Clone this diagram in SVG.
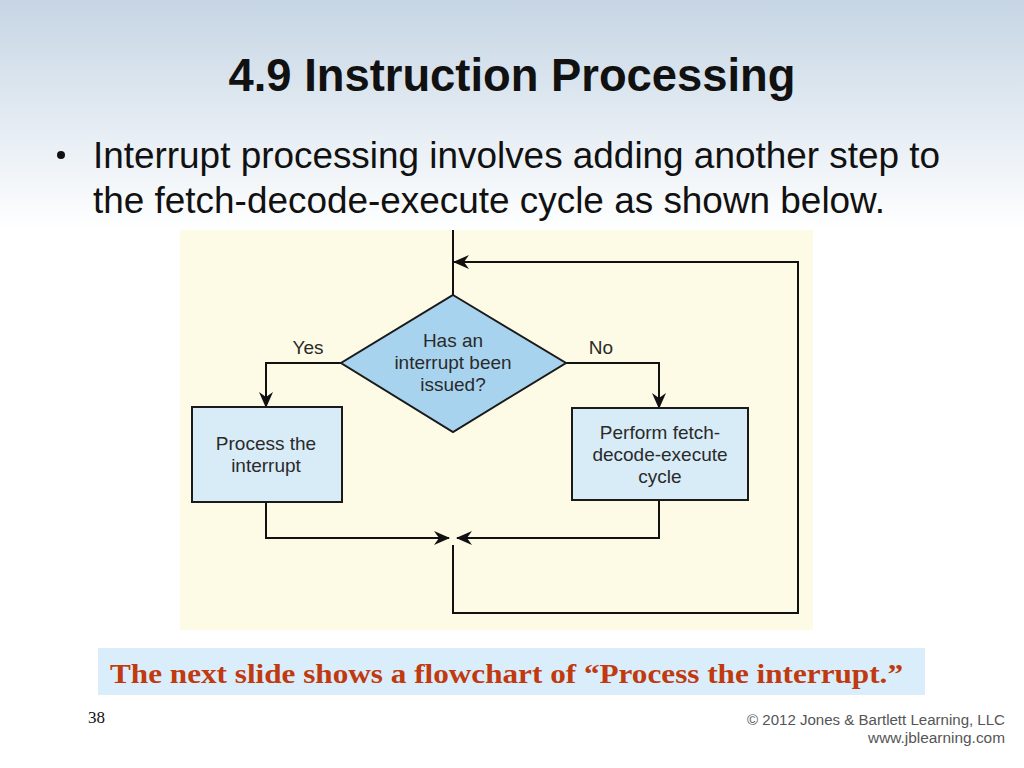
<svg xmlns="http://www.w3.org/2000/svg" width="1024" height="768" viewBox="0 0 1024 768">
  <defs>
    <linearGradient id="bg" x1="0" y1="0" x2="0" y2="1">
      <stop offset="0" stop-color="#c6d5e4"/>
      <stop offset="0.14" stop-color="#e0e9f1"/>
      <stop offset="0.3" stop-color="#ffffff"/>
      <stop offset="1" stop-color="#ffffff"/>
    </linearGradient>
    <marker id="arr" viewBox="0 0 16 16" refX="15" refY="8" markerWidth="16" markerHeight="16" markerUnits="userSpaceOnUse" orient="auto">
      <path d="M0,1 L16,8 L0,15 L5,8 z" fill="#111"/>
    </marker>
    <style>
      .box { fill: #d8ecf8; stroke: #1a1a1a; stroke-width: 2; }
      .dia { fill: #a8d3ef; stroke: #1a1a1a; stroke-width: 2; }
      .lbl { font-family: "Liberation Sans", Arial, sans-serif; font-size: 19px; fill: #2a2a2a; text-anchor: middle; }
      .con { fill: none; stroke: #111; stroke-width: 2; }
    </style>
  </defs>

  <rect x="0" y="0" width="1024" height="768" fill="url(#bg)"/>

  <text x="512" y="91" font-family="'Liberation Sans', Arial, sans-serif" font-weight="bold" font-size="47" text-anchor="middle" fill="#111" textLength="567" lengthAdjust="spacingAndGlyphs">4.9 Instruction Processing</text>

  <circle cx="61" cy="155" r="4" fill="#111"/>
  <text x="93" y="168" font-family="'Liberation Sans', Arial, sans-serif" font-size="37" fill="#111" textLength="847" lengthAdjust="spacingAndGlyphs">Interrupt processing involves adding another step to</text>
  <text x="93" y="213" font-family="'Liberation Sans', Arial, sans-serif" font-size="37" fill="#111" textLength="792" lengthAdjust="spacingAndGlyphs">the fetch-decode-execute cycle as shown below.</text>

  <rect id="diagram-bg" x="180" y="230" width="633" height="400" fill="#fdfbe6"/>

  <g id="connectors">
    <path class="con" d="M453,230 V295"/>
    <path class="con" d="M453,545 V613 H798 V262 H454" marker-end="url(#arr)"/>
    <path class="con" d="M341,363 H266 V407" marker-end="url(#arr)"/>
    <path class="con" d="M566,363 H659 V408" marker-end="url(#arr)"/>
    <path class="con" d="M266,502 V538 H449" marker-end="url(#arr)"/>
    <path class="con" d="M659,500 V538 H457" marker-end="url(#arr)"/>
    <text class="lbl" x="308" y="354">Yes</text>
    <text class="lbl" x="601" y="354">No</text>
  </g>

  <g id="decision">
    <polygon class="dia" points="453,295 566,363 453,432 341,363"/>
    <text class="lbl" x="453" y="347">Has an</text>
    <text class="lbl" x="453" y="369">interrupt been</text>
    <text class="lbl" x="453" y="391">issued?</text>
  </g>

  <g id="process-interrupt">
    <rect class="box" x="192" y="407" width="150" height="95"/>
    <text class="lbl" x="266" y="450">Process the</text>
    <text class="lbl" x="266" y="472">interrupt</text>
  </g>

  <g id="fetch-decode-execute">
    <rect class="box" x="572" y="408" width="176" height="92"/>
    <text class="lbl" x="660" y="439">Perform fetch-</text>
    <text class="lbl" x="660" y="461">decode-execute</text>
    <text class="lbl" x="660" y="483">cycle</text>
  </g>

  <rect x="98" y="648" width="827" height="47" fill="#d9eefa"/>
  <text x="110" y="683" font-family="'Liberation Serif', 'Times New Roman', serif" font-weight="bold" font-size="28" fill="#c0390f" textLength="793" lengthAdjust="spacingAndGlyphs">The next slide shows a flowchart of “Process the interrupt.”</text>

  <text x="88" y="723" font-family="'Liberation Serif', 'Times New Roman', serif" font-size="17" fill="#111">38</text>

  <text x="1005" y="725" font-family="'Liberation Sans', Arial, sans-serif" font-size="14" fill="#555" text-anchor="end" textLength="258" lengthAdjust="spacingAndGlyphs">© 2012 Jones &amp; Bartlett Learning, LLC</text>
  <text x="1005" y="743" font-family="'Liberation Sans', Arial, sans-serif" font-size="14" fill="#555" text-anchor="end" textLength="137" lengthAdjust="spacingAndGlyphs">www.jblearning.com</text>
</svg>
